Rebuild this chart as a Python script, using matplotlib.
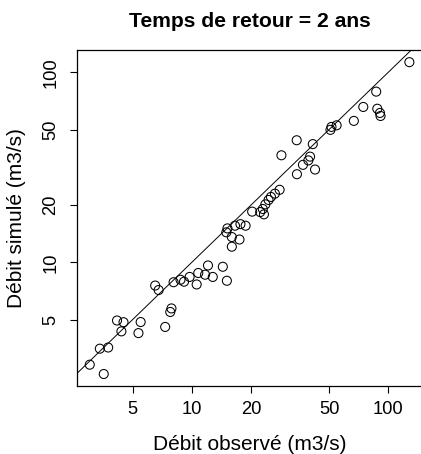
import matplotlib
matplotlib.use("Agg")
import matplotlib.pyplot as plt
import numpy as np

plt.rcParams['font.family'] = ['Liberation Sans', 'DejaVu Sans']

title = "Temps de retour = 2 ans"
xlabel = "Débit observé (m3/s)"
ylabel = "Débit simulé (m3/s)"
ticks = [5, 10, 20, 50, 100]
tick_labels = ["5", "10", "20", "50", "100"]

observed = [3.03, 3.57, 3.41, 3.76, 4.17, 4.50, 4.39, 5.50, 5.36, 7.33,
            7.89, 7.78, 6.52, 6.79, 8.09, 8.77, 9.14, 9.76, 10.8, 10.6,
            11.7, 12.1, 12.8, 14.4, 15.1, 15.2, 15.0, 16.0, 16.0, 17.5,
            16.6, 17.7, 18.8, 20.3, 22.3, 23.0, 23.3, 23.7, 24.6, 25.3,
            26.5, 28.0, 28.6, 34.2, 41.3, 40.0, 39.2, 36.8, 42.4, 34.3,
            51.4, 50.8, 54.6, 66.8, 74.6, 87.9, 90.7, 91.3, 86.8, 128.0]
simulated = [2.90, 2.59, 3.52, 3.57, 4.95, 4.85, 4.34, 4.86, 4.25, 4.58,
             5.73, 5.49, 7.56, 7.16, 7.87, 8.11, 7.92, 8.39, 8.80, 7.66,
             8.62, 9.64, 8.39, 9.49, 8.01, 15.1, 14.4, 13.6, 12.1, 13.2,
             15.6, 15.9, 15.6, 18.5, 18.4, 19.1, 17.9, 20.2, 21.3, 22.1,
             23.0, 24.1, 36.6, 43.9, 41.9, 36.0, 34.4, 32.6, 30.8, 29.1,
             51.6, 49.8, 52.6, 55.5, 65.7, 64.3, 61.1, 58.9, 79.1, 113.0]

W, H = 421, 454
fig = plt.figure(figsize=(W / 100, H / 100), dpi=100)
ax = fig.add_axes([77.3 / W, 1 - 386.3 / H, (422 - 77.3) / W, (386.3 - 50.4) / H])
ax.set_xscale('log')
ax.set_yscale('log')
ax.set_xlim(2.619, 148.4)
ax.set_ylim(2.232, 130.3)

ax.scatter(observed, simulated, s=6.5 ** 2, facecolors='none', edgecolors='black',
           linewidths=0.75, zorder=3)
lims = np.array([1.0, 1000.0])
ax.plot(lims, lims, color='black', linewidth=0.7, zorder=2)

ax.set_xticks(ticks)
ax.set_xticklabels(tick_labels)
ax.set_yticks(ticks)
ax.set_yticklabels(tick_labels, rotation=90, va='center')
ax.minorticks_off()
ax.tick_params(axis='both', direction='out', length=5, width=0.8, labelsize=13.25,
               color='black', labelcolor='black')
ax.tick_params(axis='x', pad=5.8)
ax.tick_params(axis='y', pad=7.8)
for sp in ax.spines.values():
    sp.set_linewidth(0.9)
    sp.set_color('black')

fig.text(249.7 / W, 1 - 450 / H, xlabel, fontsize=15, ha='center', va='baseline')
fig.text(17 / W, 1 - 218 / H, ylabel, fontsize=15, rotation=90,
         ha='center', va='center')
fig.text(249.5 / W, 1 - 26.7 / H, title, fontsize=15.2, fontweight='bold',
         ha='center', va='baseline')

fig.savefig("out.png", dpi=100)
